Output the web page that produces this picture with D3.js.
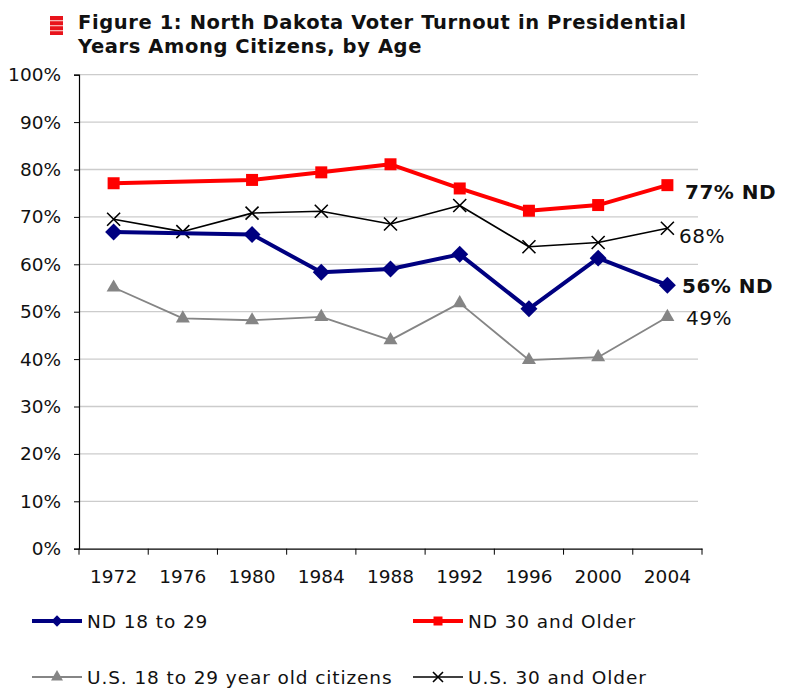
<!DOCTYPE html>
<html><head><meta charset="utf-8">
<script src="https://cdn.jsdelivr.net/npm/d3@7"></script>
<style>body{margin:0;background:#fff}svg{display:block}</style>
</head><body>
<svg id="c" width="788" height="688"></svg>
<script>
const years = ["1972","1976","1980","1984","1988","1992","1996","2000","2004"];
const nd1829 = [66.8, null, 66.3, 58.3, 59.0, 62.1, 50.6, 61.3, 55.6];
const nd30 = [77.1, null, 77.8, 79.4, 81.1, 76.0, 71.3, 72.5, 76.7];
const us1829 = [55.1, 48.6, 48.2, 48.9, 44.0, 51.8, 39.8, 40.4, 48.9];
const us30 = [69.5, 66.9, 70.8, 71.2, 68.5, 72.4, 63.7, 64.6, 67.6];
const yTicks = [0,10,20,30,40,50,60,70,80,90,100];
const titleLines = ["Figure 1: North Dakota Voter Turnout in Presidential","Years Among Citizens, by Age"];
const endLabels = [
  {text:"77% ND", bold:true, v:77},
  {text:"68%", bold:false, v:68},
  {text:"56% ND", bold:true, v:56},
  {text:"49%", bold:false, v:49}
];

const FONT = "DejaVu Sans, Verdana, sans-serif";
const svg = d3.select("#c");
const L=79, R=702, T=74.7, B=548.7;
const x = d3.scaleBand().domain(years).range([L,R]);
const y = d3.scaleLinear().domain([0,100]).range([B,T]);
const cx = d => x(d)+x.bandwidth()/2;

// title icon
const ic = svg.append("g");
ic.append("rect").attr("x",50).attr("y",16).attr("width",13).attr("height",19).attr("fill","#e8131b");
[20,25,30].forEach(yy=>ic.append("rect").attr("x",50).attr("y",yy).attr("width",13).attr("height",1.3).attr("fill","#f7b0b0"));
svg.selectAll("text.title").data(titleLines).join("text")
  .attr("x",78).attr("y",(d,i)=>28.5+i*24.5)
  .attr("font-family",FONT).attr("font-weight","bold")
  .attr("font-size",19.5).attr("letter-spacing",0.6).attr("fill","#111").text(d=>d);

// gridlines
svg.append("g").selectAll("line").data(yTicks.filter(t=>t>0)).join("line")
  .attr("x1",L).attr("x2",R-4).attr("y1",d=>y(d)).attr("y2",d=>y(d))
  .attr("stroke","#cccccc").attr("stroke-width",1.3);

// y axis
const ya = svg.append("g").attr("transform",`translate(${L},0)`)
  .call(d3.axisLeft(y).tickValues(yTicks).tickSize(5).tickPadding(13).tickFormat(d=>d+"%"));
ya.select(".domain").attr("stroke","#000").attr("stroke-width",1.2);
ya.selectAll("line").attr("stroke","#000");
ya.selectAll("text").attr("font-family",FONT).attr("font-size",18.5).attr("fill","#111");

// x axis
const xa = svg.append("g").attr("transform",`translate(0,${B})`)
  .call(d3.axisBottom(x).tickSize(0).tickPadding(21));
xa.select(".domain").attr("stroke","#000").attr("stroke-width",1.2);
xa.selectAll("text").attr("font-family",FONT).attr("font-size",18.5).attr("fill","#111");
const edges = years.map(d=>x(d)).concat([R]);
svg.append("g").selectAll("line").data(edges).join("line")
  .attr("x1",d=>d).attr("x2",d=>d).attr("y1",B).attr("y2",B+6).attr("stroke","#000");

function series(vals, color, width, marker, size){
  const pts = years.map((yr,i)=>({yr, v:vals[i]})).filter(p=>p.v!=null);
  svg.append("path").datum(pts)
    .attr("d", d3.line().x(p=>cx(p.yr)).y(p=>y(p.v)))
    .attr("fill","none").attr("stroke",color).attr("stroke-width",width).attr("stroke-linejoin","round");
  const g = svg.append("g");
  pts.forEach(p=>drawMarker(g, cx(p.yr), y(p.v), marker, color, size));
}
function drawMarker(g, px, py, marker, color, size){
  if(marker==="x"){
    const s=size/2;
    g.append("path").attr("d",`M${px-s},${py-s}L${px+s},${py+s}M${px-s},${py+s}L${px+s},${py-s}`)
      .attr("stroke",color).attr("stroke-width",1.6).attr("fill","none");
  } else {
    const sym = {diamond:d3.symbolSquare, square:d3.symbolSquare, triangle:d3.symbolTriangle}[marker];
    const area = marker==="triangle" ? 0.433*size*size : size*size;
    let t = `translate(${px},${py})`;
    if(marker==="diamond") t+=" rotate(45)";
    g.append("path").attr("d",d3.symbol().type(sym).size(area)())
      .attr("transform",t).attr("fill",color);
  }
}
series(us1829,"#858585",1.8,"triangle",14);
series(us30,"#000000",1.6,"x",13);
series(nd1829,"#000080",4,"diamond",12);
series(nd30,"#ff0000",4,"square",12);

// end labels
svg.selectAll("text.end").data(endLabels).join("text")
  .attr("x",(d,i)=>[685,679,682,686][i]).attr("y",(d,i)=>[199,243,293,325][i])
  .attr("font-family",FONT).attr("font-size",20).attr("letter-spacing",0.5)
  .attr("font-weight",d=>d.bold?"bold":"normal").attr("fill","#111").text(d=>d.text);

// legend
const legend = [
  {name:"ND 18 to 29", color:"#000080", w:4, m:"diamond", s:8, x:32, y:621},
  {name:"ND 30 and Older", color:"#ff0000", w:4, m:"square", s:9, x:413, y:621},
  {name:"U.S. 18 to 29 year old citizens", color:"#858585", w:2, m:"triangle", s:12, x:32, y:677},
  {name:"U.S. 30 and Older", color:"#000000", w:1.6, m:"x", s:10, x:413, y:677}
];
legend.forEach(l=>{
  const g = svg.append("g");
  g.append("line").attr("x1",l.x).attr("x2",l.x+50).attr("y1",l.y).attr("y2",l.y).attr("stroke",l.color).attr("stroke-width",l.w);
  drawMarker(g, l.x+25, l.y, l.m, l.color, l.s);
  g.append("text").attr("x",l.x+55).attr("y",l.y+6.5).attr("font-family",FONT)
    .attr("font-size",18.5).attr("letter-spacing",0.9).attr("fill","#111").text(l.name);
});
</script>
</body></html>
